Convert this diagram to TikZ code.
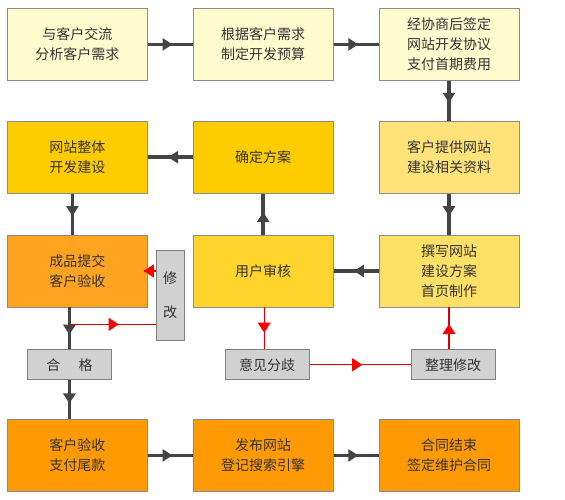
\documentclass[tikz,border=0pt]{standalone}
\usepackage{fontspec}
\setmainfont{Noto Sans CJK SC}
\usetikzlibrary{arrows.meta,positioning,decorations.markings}
\definecolor{pale}{HTML}{FEFBCF}
\definecolor{gold}{HTML}{FFCC00}
\definecolor{lightgold}{HTML}{FFE27A}
\definecolor{amber}{HTML}{FFA321}
\definecolor{sun}{HTML}{FFD42C}
\definecolor{butter}{HTML}{FFE066}
\definecolor{tangerine}{HTML}{FF9A05}
\definecolor{linegray}{HTML}{444444}

\begin{document}
\begin{tikzpicture}[x=1pt, y=1pt,
  node distance=40pt and 45pt,
  every node/.style={font=\fontsize{14}{20}\selectfont, text=black!80},
  box/.style={rectangle, draw=black!45, line width=0.8pt, align=center, minimum width=140pt, minimum height=72pt, inner sep=2pt},
  note/.style={rectangle, draw=black!50, line width=0.8pt, fill=black!18, align=center, minimum width=84pt, minimum height=30pt, inner sep=1pt},
  arr/.style={draw=linegray, line width=3.5pt, decoration={markings, mark=at position #1 with {\arrow[linegray]{Triangle[length=10pt,width=12pt]}}}, postaction={decorate}},
  arr/.default=0.55,
  rarr/.style={draw=red!85!black, line width=1.1pt, decoration={markings, mark=at position #1 with {\arrow[red]{Triangle[length=10pt,width=13pt]}}}, postaction={decorate}},
  rarr/.default=0.55]
\useasboundingbox (0,0) rectangle (565,-500);
% first row
\node[box, fill=pale, anchor=north west] (talk) at (7,-8) {与客户交流\\分析客户需求};
\node[box, fill=pale, right=of talk] (budget) {根据客户需求\\制定开发预算};
\node[box, fill=pale, right=of budget] (sign) {经协商后签定\\网站开发协议\\支付首期费用};
% second row
\node[box, fill=lightgold, below=of sign] (material) {客户提供网站\\建设相关资料};
\node[box, fill=gold, below=of budget] (plan) {确定方案};
\node[box, fill=gold, below=of talk] (build) {网站整体\\开发建设};
% third row
\node[box, fill=butter, below=41pt of material] (draft) {撰写网站\\建设方案\\首页制作};
\node[box, fill=sun, below=41pt of plan] (review) {用户审核};
\node[box, fill=amber, below=41pt of build] (submit) {成品提交\\客户验收};
\node[rectangle, draw=black!50, line width=0.8pt, fill=black!18, minimum width=28pt, minimum height=90pt, inner sep=0pt, align=center, anchor=north west] (fix) at ([xshift=8pt,yshift=-15pt]submit.north east) {修\\[14pt]改};
% notes
\node[note, below=42pt of submit.south, xshift=-8pt] (pass) {合\hspace{1.3em}格};
\node[note, below=42pt of review.south, xshift=4pt] (differ) {意见分歧};
\node[note, right=101pt of differ] (revise) {整理修改};
% last row
\node[box, fill=tangerine, anchor=north west] (accept) at (7,-419) {客户验收\\支付尾款};
\node[box, fill=tangerine, right=of accept] (publish) {发布网站\\登记搜索引擎};
\node[box, fill=tangerine, right=of publish] (finish) {合同结束\\签定维护合同};
% main flow
\draw[arr] (talk) -- (budget);
\draw[arr] (budget) -- (sign);
\draw[arr] (sign) -- (material);
\draw[arr] (material) -- (draft);
\draw[arr] (draft) -- (review);
\draw[arr] (review) -- (plan);
\draw[arr] (plan) -- (build);
\draw[arr] ([xshift=-5pt]build.south) -- ([xshift=-5pt]submit.north);
\draw[arr=0.65] (submit.south -| pass.north) -- (pass.north);
\draw[arr=0.6] (pass.south) -- (pass.south |- accept.north);
\draw[arr] (accept) -- (publish);
\draw[arr] (publish) -- (finish);
% corrections
\coordinate (tap) at ([yshift=-17pt]submit.south -| pass.north);
\draw[rarr=0.57] (tap) -- (tap -| fix.west);
\draw[rarr=1] (fix.west |- submit.east) -- ([xshift=-4pt]submit.east);
\draw[rarr=0.6] (review.south -| differ.north) ++(-3pt,0) coordinate (rtop) -- (rtop |- differ.north);
\draw[rarr=0.52] (differ) -- (revise);
\draw[rarr=0.6] ([xshift=-4pt]revise.north) coordinate (rbot) -- (rbot |- draft.south);
\end{tikzpicture}
\end{document}
